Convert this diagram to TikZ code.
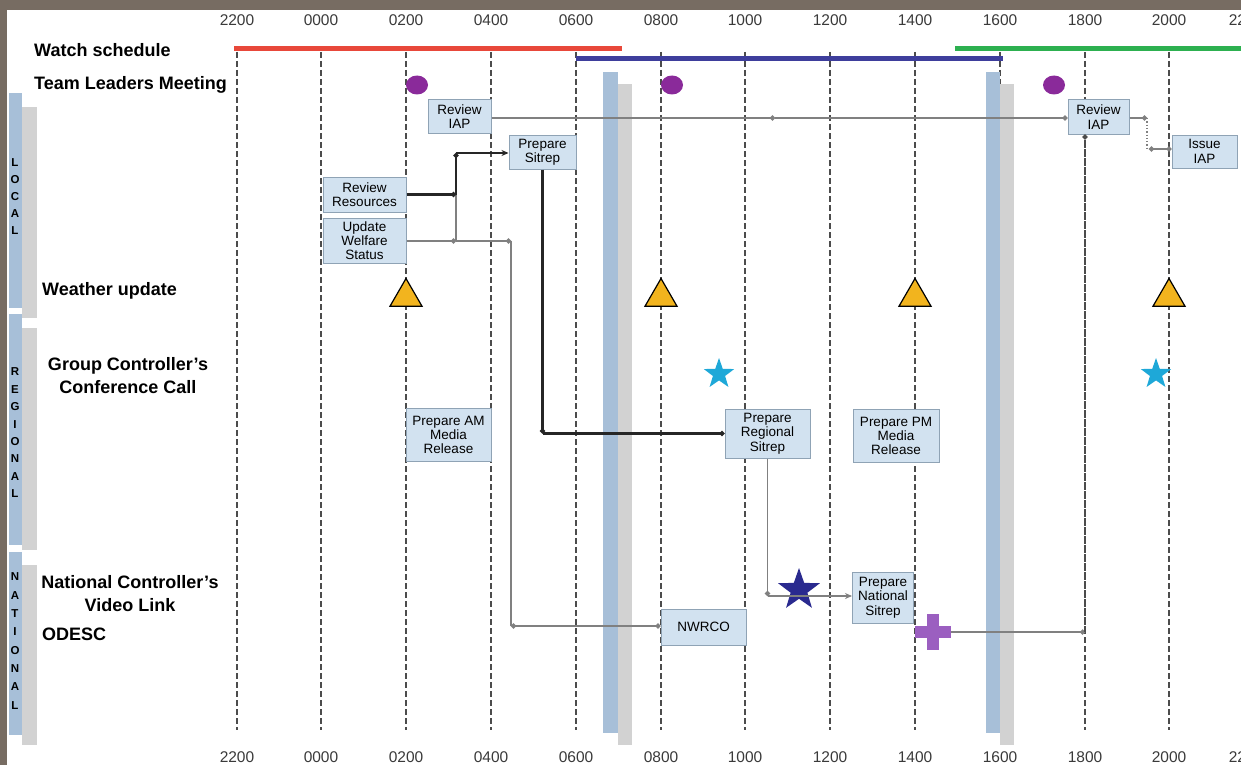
\documentclass[tikz,border=0pt]{standalone}
\usepackage{fontspec}
\setmainfont{Liberation Sans}
\usetikzlibrary{shapes.geometric,arrows.meta}
\definecolor{framec}{HTML}{776C62}
\definecolor{redline}{HTML}{E8483A}
\definecolor{blueline}{HTML}{3E3E9C}
\definecolor{greenline}{HTML}{2DB050}
\definecolor{meetc}{HTML}{8A2A9A}
\definecolor{boxfill}{HTML}{D2E2F0}
\definecolor{boxdraw}{HTML}{8FA3B5}
\definecolor{barblue}{HTML}{A7BFD8}
\definecolor{bargray}{HTML}{D2D2D2}
\definecolor{trifill}{HTML}{F2B41E}
\definecolor{cyanstar}{HTML}{1EA8D8}
\definecolor{darkstar}{HTML}{2A2A8F}
\definecolor{plusc}{HTML}{9B5FC0}
\definecolor{axisc}{HTML}{3A3A3A}
\definecolor{connc}{HTML}{808080}
\newcommand\lblfont{\fontsize{18}{23}\selectfont\bfseries}
\newcommand\boxfont{\fontsize{13.5}{14.3}\selectfont}
\newcommand\axfont{\fontsize{15.5}{18}\selectfont}
\newcommand\sidefont{\fontsize{11.5}{12}\selectfont\bfseries}
\tikzset{
  gridline/.style={draw=black!70, line width=2, dash pattern=on 6pt off 3pt},
  tbox/.style={draw=boxdraw, fill=boxfill, line width=1, inner sep=0.5pt, align=center, font=\boxfont},
  lbl/.style={font=\lblfont, inner sep=0, align=center},
  axlbl/.style={font=\axfont, text=axisc, inner sep=0},
  conn/.style={draw=connc, line width=1.3},
  darkconn/.style={draw=black!85, line width=2.2},
  dot/.style={-{Circle[length=5pt]}},
  arr/.style={-{Stealth[length=7pt,width=6pt]}},
  meet/.style={ellipse, fill=meetc, minimum width=22, minimum height=19, inner sep=0},
  weather/.style={regular polygon, regular polygon sides=3, minimum size=37, inner sep=0, draw=black, line width=1.2, fill=trifill},
  callstar/.style={star, star points=5, star point ratio=2.5, fill=cyanstar, minimum size=32, inner sep=0},
  bigstar/.style={star, star points=5, star point ratio=2.5, fill=darkstar, minimum size=44, inner sep=0},
  sidebar/.style={fill=barblue},
  sideshadow/.style={fill=bargray},
  sidetxt/.style={font=\sidefont, inner sep=0}
}
\begin{document}
\begin{tikzpicture}[x=1pt,y=-1pt]
\useasboundingbox (0,0) rectangle (1241,765);
\clip (0,0) rectangle (1241,765);
\fill[white] (0,0) rectangle (1241,765);
% frame
\fill[framec] (0,0) rectangle (1241,10);
\fill[framec] (0,0) rectangle (7,765);
% side group bars
\fill[sideshadow] (22,107) rectangle (37,318);
\fill[sidebar] (9,93) rectangle (22,308);
\fill[sideshadow] (22,328) rectangle (37,550);
\fill[sidebar] (9,314) rectangle (22,545);
\fill[sideshadow] (22,565) rectangle (37,745);
\fill[sidebar] (9,552) rectangle (22,735);
\foreach \c [count=\i from 0] in {L,O,C,A,L}
  \node[sidetxt] (loc\i) at (15,{163+17*\i}) {\c};
\foreach \c [count=\i from 0] in {R,E,G,I,O,N,A,L}
  \node[sidetxt] (reg\i) at (15,{372+17.4*\i}) {\c};
\foreach \c [count=\i from 0] in {N,A,T,I,O,N,A,L}
  \node[sidetxt] (nat\i) at (15,{577+18.3*\i}) {\c};
% grid lines and axis labels
\foreach \lab [count=\k from 0] in {2200,0000,0200,0400,0600,0800,1000,1200,1400,1600,1800,2000}{
  \pgfmathsetmacro{\gx}{round(236.5+84.8*\k)}
  \draw[gridline] (\gx,52) -- (\gx,730);
  \node[axlbl] (top\k) at (\gx,20) {\lab};
  \node[axlbl] (bot\k) at (\gx,757) {\lab};
}
\node[axlbl] (top12) at (1246,20) {2200};
\node[axlbl] (bot12) at (1246,757) {2200};
% watch schedule lines
\draw[redline, line width=5] (234,49) -- (622,49);
\draw[greenline, line width=5] (955,49) -- (1241,49);
\draw[blueline, line width=5] (576,59) -- (1003,59);
% big vertical bars
\fill[bargray] (618,84) rectangle (632,745);
\fill[barblue] (603,72) rectangle (618,733);
\fill[bargray] (1000,84) rectangle (1014,745);
\fill[barblue] (986,72) rectangle (1000,733);
% row labels
\node[lbl, anchor=west] (watch) at (34,50) {Watch schedule};
\node[lbl, anchor=west] (tlm) at (34,85) {Team Leaders Meeting};
\node[lbl, anchor=west] (wx) at (42,291) {Weather update};
\node[lbl] (gcc) at (128,376) {Group Controller's\\Conference Call};
\node[lbl] (ncv) at (130,594) {National Controller's\\Video Link};
\node[lbl, anchor=west] (odesc) at (42,634) {ODESC};
% meetings
\node[meet] (m1) at (417,85) {};
\node[meet] (m2) at (672,85) {};
\node[meet] (m3) at (1054,85) {};
% weather triangles
\node[weather] (w0200) at (406,297) {};
\node[weather] (w0800) at (661,297) {};
\node[weather] (w1400) at (915,297) {};
\node[weather] (w2000) at (1169,297) {};
% stars
\node[callstar] (gc1) at (719,374) {};
\node[callstar] (gc2) at (1156,374) {};
\node[bigstar] (nc1) at (799,590) {};
% plus
\node[minimum size=36, inner sep=0] (plus) at (933,632) {};
\fill[plusc] (915,626) rectangle (951,638);
\fill[plusc] (927,614) rectangle (939,650);
% task boxes
\node[tbox, minimum width=63, minimum height=33] (riap1) at (459.5,116.5) {Review\\IAP};
\node[tbox, minimum width=67, minimum height=34] (sitrep) at (542.5,152) {Prepare\\Sitrep};
\node[tbox, minimum width=83, minimum height=35] (rres) at (364.5,194.5) {Review\\Resources};
\node[tbox, minimum width=83, minimum height=45] (welf) at (364.5,240.5) {Update\\Welfare\\Status};
\node[tbox, minimum width=61, minimum height=34] (riap2) at (1098.5,117) {Review\\IAP};
\node[tbox, minimum width=65, minimum height=33] (issue) at (1204.5,151.5) {Issue\\IAP};
\node[tbox, minimum width=85, minimum height=53] (amrel) at (448.5,435) {Prepare AM\\Media\\Release};
\node[tbox, minimum width=85, minimum height=49] (regsit) at (767.5,433.5) {Prepare\\Regional\\Sitrep};
\node[tbox, minimum width=86, minimum height=53] (pmrel) at (896,436) {Prepare PM\\Media\\Release};
\node[tbox, minimum width=61, minimum height=51] (natsit) at (883,597.5) {Prepare\\National\\Sitrep};
\node[tbox, minimum width=85, minimum height=36] (nwrco) at (703.5,627) {NWRCO};
% connectors
\coordinate (mid) at (775,118);
\draw[conn, dot] (riap1.east|-mid) -- (mid);
\draw[conn, dot] (mid) -- (riap2.west|-mid);
\coordinate (c1) at (1147,118);
\coordinate (c2) at (1149,149);
\draw[conn, dot] (riap2.east|-c1) -- (c1);
\draw[conn, dotted] (c1) -- (c1|-c2);
\draw[conn, {Circle[length=5pt]}-{Circle[length=5pt]}] (c2) -- (issue.west|-c2);
\coordinate (j1) at (456,194.5);
\coordinate (j2) at (456,153);
\coordinate (wj) at (456,241);
\coordinate (wk) at (511,241);
\coordinate (wl) at (511,626);
\draw[conn] (wj) -- (j1);
\draw[conn, dot] (welf.east|-wj) -- (wj);
\draw[conn, dot] (wj) -- (wk);
\draw[conn] (wk) -- (wl);
\draw[conn, {Circle[length=5pt]}-{Circle[length=5pt]}] (wl) -- (nwrco.west|-wl);
\draw[darkconn, dot] (rres.east|-j1) -- (j1);
\draw[darkconn, dot] (j1) -- (j2);
\draw[darkconn, arr] (j2) -- (sitrep.west|-j2);
\coordinate (s1) at (sitrep.south|-regsit.west);
\draw[darkconn, dot] (sitrep.south) -- (s1);
\draw[darkconn, dot] (s1) -- (regsit.west);
\coordinate (r1) at (regsit.south|-0,596);
\draw[conn, line width=1.5, dot] (regsit.south) -- (r1);
\draw[conn, line width=1.5, arr] (r1) -- (natsit.west|-r1);
\coordinate (p1) at (1085,632);
\draw[conn, dot] (plus.east) -- (p1);
\draw[gridline, dot] (p1) -- (p1|-riap2.south);
\end{tikzpicture}
\end{document}
